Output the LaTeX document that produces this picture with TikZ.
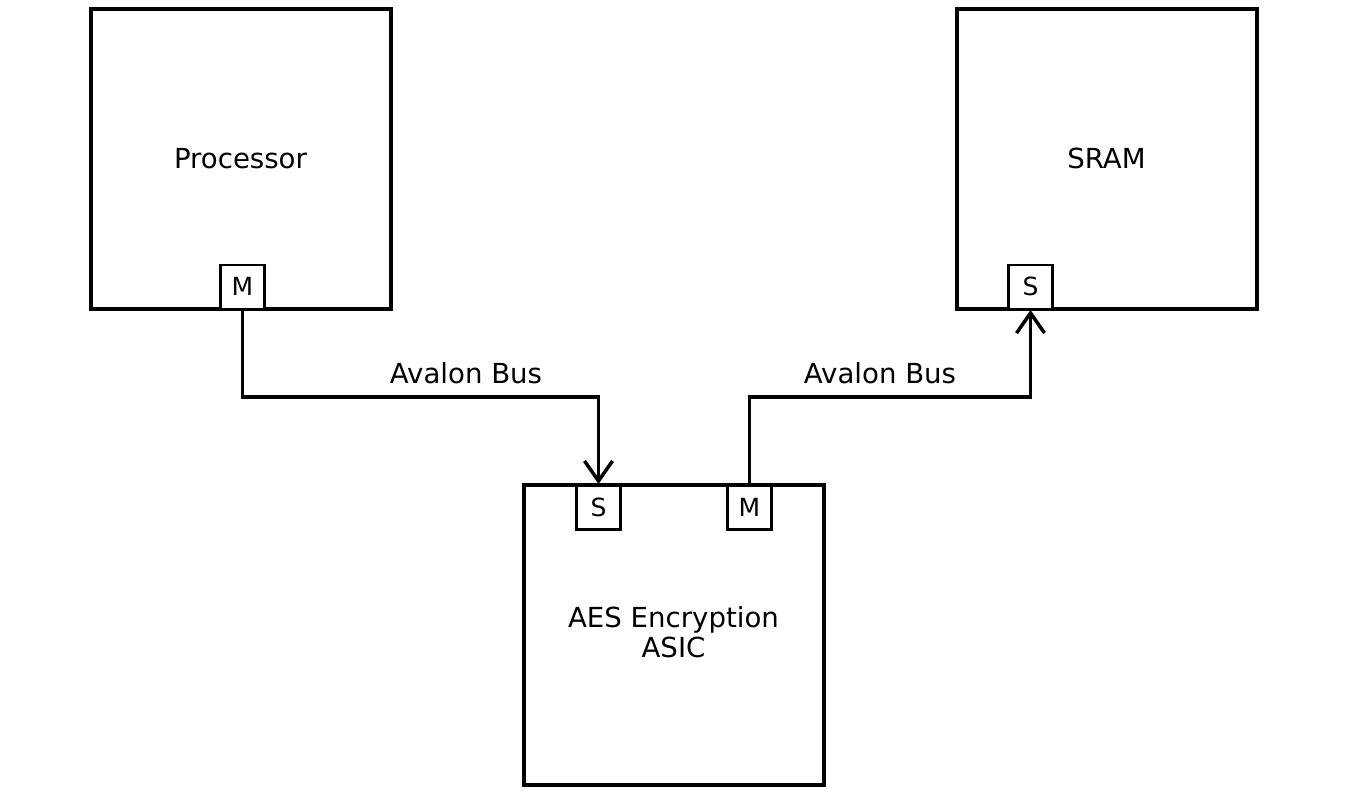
\documentclass[tikz,border=0pt]{standalone}
\usepackage{fontspec}
\setmainfont{DejaVu Sans}
\usetikzlibrary{arrows.meta}

\tikzset{
  block/.style={draw, line width=2pt, minimum width=150pt, minimum height=150pt, inner sep=0pt},
  port/.style={draw, line width=1.25pt, fill=white, minimum size=22pt, inner sep=0pt},
  bus/.style={line width=1.75pt, -{Straight Barb[length=10pt,width=14pt,line width=1.75pt]}},
  lbl/.style={font=\fontsize{13.8}{15}\selectfont, align=center}
}

\begin{document}
\begin{tikzpicture}[x=0.5pt, y=-0.5pt]
                \useasboundingbox (0,0) rectangle (1362,804);
                % blocks
                \node[block] (proc) at (240.5,158.5) {};
                \node[block] (sram) at (1106.5,158.5) {};
                \node[block] (aes) at (673.5,635) {};
                \node[lbl] (proclbl) at (proc.center) {Processor};
                \node[lbl] (sramlbl) at (sram.center) {SRAM};
                \node[lbl] (aeslbl) at (673.5,632) {AES Encryption\\ASIC};
                % ports
                \node[port, anchor=south] (pm) at (242.5,310) {\fontsize{12.5}{14}\selectfont M};
                \node[port, anchor=south] (ss) at (1030.5,310) {\fontsize{12.5}{14}\selectfont S};
                \node[port, anchor=north] (as) at (598.5,484) {\fontsize{12.5}{14}\selectfont S};
                \node[port, anchor=north] (am) at (749.5,484) {\fontsize{12.5}{14}\selectfont M};
                % buses
                \coordinate (busy) at (0,397);
                \draw[bus] (pm.south) |- (busy -| as.north) -- (as.north);
                \draw[bus] (am.north) |- (busy -| ss.south) -- (ss.south);
                \node[lbl] (bus1) at (466,373) {Avalon Bus};
                \node[lbl] (bus2) at (880,373) {Avalon Bus};
            \end{tikzpicture}
\end{document}
